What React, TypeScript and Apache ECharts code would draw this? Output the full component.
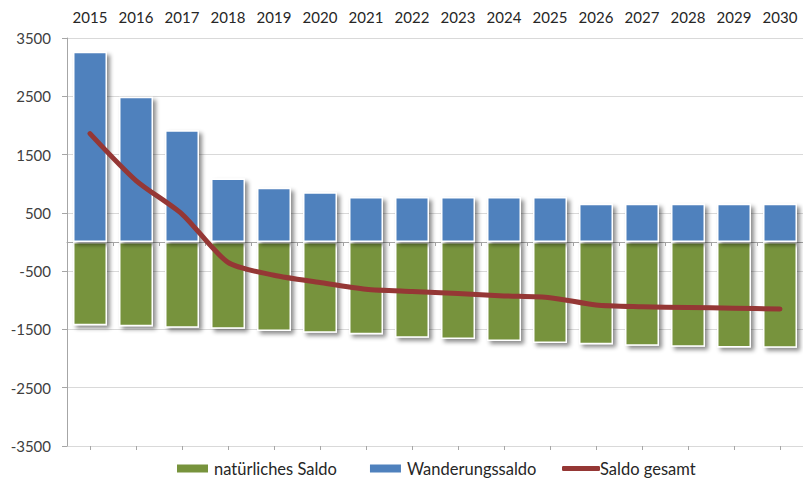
import React, { useEffect, useRef } from "react";
import * as echarts from "echarts";

const years = ["2015","2016","2017","2018","2019","2020","2021","2022","2023","2024","2025","2026","2027","2028","2029","2030"];
const natuerlichesSaldo = [-1430,-1446,-1470,-1487,-1527,-1556,-1584,-1642,-1664,-1699,-1733,-1756,-1780,-1797,-1808,-1814];
const wanderungssaldo = [3265,2490,1916,1090,930,855,770,770,770,770,770,655,655,655,655,655];
const saldoGesamt = [1860,1055,480,-350,-570,-695,-810,-850,-885,-925,-955,-1080,-1110,-1125,-1135,-1150];

const FONT = "Lato, 'Open Sans', sans-serif";

export default function App() {
  const ref = useRef<HTMLDivElement>(null);
  useEffect(() => {
    document.body.style.margin = "0";
    const chart = echarts.init(ref.current!, undefined, { renderer: "svg" });
    const barShadow = {
      shadowColor: "rgba(0,0,0,0.45)",
      shadowBlur: 4,
      shadowOffsetX: 3,
      shadowOffsetY: 3,
    };
    const legendText = { fontFamily: FONT, fontSize: 16.5, color: "#262626" };
    chart.setOption({
      animation: false,
      backgroundColor: "#ffffff",
      textStyle: { fontFamily: FONT },
      grid: { left: 67, top: 38, right: -6, bottom: 32 },
      legend: [
        {
          left: 170,
          top: 455,
          itemWidth: 33,
          itemHeight: 10,
          itemGap: 31,
          icon: "rect",
          textStyle: legendText,
          data: ["natürliches Saldo", "Wanderungssaldo"],
        },
        {
          left: 557,
          top: 455,
          itemWidth: 38,
          itemHeight: 5,
          icon: "roundRect",
          textStyle: { ...legendText, padding: [0, 0, 0, -5] },
          data: ["Saldo gesamt"],
        },
      ],
      xAxis: [
        {
          type: "category",
          data: years,
          position: "top",
          axisLine: { show: false, onZero: false },
          axisTick: { show: false },
          axisLabel: { fontFamily: FONT, fontSize: 15, color: "#262626", margin: 14 },
        },
        {
          type: "category",
          data: years,
          position: "bottom",
          axisLine: { show: true, onZero: true, lineStyle: { color: "#a6a6a6", width: 1 } },
          axisTick: { show: true, length: 4, inside: false, lineStyle: { color: "#a6a6a6" } },
          axisLabel: { show: false },
        },
        {
          type: "category",
          data: years,
          position: "bottom",
          axisLine: { show: false, onZero: true },
          axisTick: { show: true, alignWithLabel: true, length: 4, inside: false, lineStyle: { color: "#a6a6a6" } },
          axisLabel: { show: false },
        },
      ],
      yAxis: {
        type: "value",
        min: -3500,
        max: 3500,
        interval: 1000,
        axisLine: { show: true, lineStyle: { color: "#a6a6a6" } },
        axisTick: { show: true, length: 5, lineStyle: { color: "#a6a6a6" } },
        axisLabel: {
          fontFamily: FONT,
          fontSize: 15,
          color: "#404040",
          margin: 16,
          formatter: (v: number) => String(v),
        },
        splitLine: { show: true, lineStyle: { color: "#d9d9d9", width: 1 } },
      },
      series: [
        {
          name: "natürliches Saldo",
          type: "bar",
          stack: "saldo",
          barWidth: 34,
          data: natuerlichesSaldo,
          itemStyle: { color: "#77933C", borderColor: "#ffffff", borderWidth: 1.5, ...barShadow },
        },
        {
          name: "Wanderungssaldo",
          type: "bar",
          stack: "saldo",
          barWidth: 34,
          data: wanderungssaldo,
          itemStyle: { color: "#4F81BD", borderColor: "#ffffff", borderWidth: 1.5, ...barShadow },
        },
        {
          name: "Saldo gesamt",
          type: "line",
          data: saldoGesamt,
          symbol: "none",
          smooth: 0.25,
          z: 5,
          lineStyle: { color: "#953735", width: 5, cap: "round", join: "round" },
          itemStyle: { color: "#953735" },
        },
      ],
    });
    return () => chart.dispose();
  }, []);
  return <div ref={ref} style={{ width: 803, height: 478 }} />;
}
